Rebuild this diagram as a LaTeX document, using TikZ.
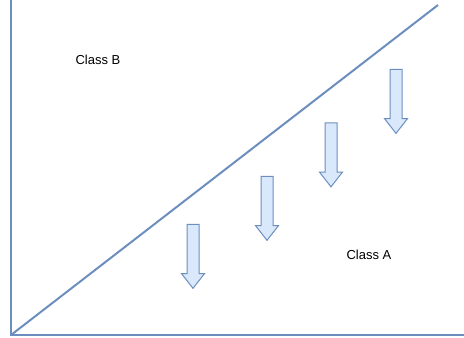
\documentclass[tikz,border=0pt]{standalone}
\usepackage{fontspec}
\setmainfont{Liberation Sans}
\usetikzlibrary{shapes.arrows}
\definecolor{lineblue}{HTML}{6C8EBF}
\definecolor{fillblue}{HTML}{DAE8FC}

\begin{document}
\begin{tikzpicture}[x=0.75pt,y=-0.75pt,
    axis/.style={draw=lineblue,line width=1.5pt},
    blockarrow/.style={single arrow,draw=lineblue,fill=fillblue,line width=0.75pt,
        rotate=-90,minimum height=48pt,inner sep=4.125pt,
        single arrow head extend=4.125pt,single arrow tip angle=76},
    label/.style={font=\fontsize{9.75}{12}\selectfont}]
\useasboundingbox (0,0) rectangle (464,338);

% Axes
\coordinate (top) at (11,0);
\coordinate (origin) at (11,335);
\coordinate (right) at (464,335);
\draw[axis] (top) -- (origin) -- (right);

% Boundary line
\coordinate (end) at (438,5);
\draw[axis] (origin) -- (end);

% Labels
\node[label] (classB) at (98,60) {Class B};
\node[label] (classA) at (369,255) {Class A};

% Arrows
\foreach \x/\y in {193/252.5,267/204.5,331/151,396/97.5}
    \node[blockarrow] (arrow\x) at (\x,\y) {};
\end{tikzpicture}
\end{document}
